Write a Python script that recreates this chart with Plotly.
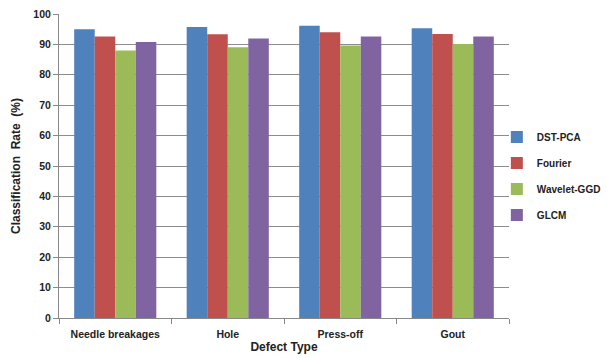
import plotly.graph_objects as go

categories = ["Needle breakages", "Hole", "Press-off", "Gout"]
dst_pca = [95.0, 95.7, 96.1, 95.3]
fourier = [92.6, 93.3, 94.0, 93.4]
wavelet_ggd = [88.0, 89.1, 89.6, 90.1]
glcm = [90.8, 91.9, 92.6, 92.6]

series = [
    ("DST-PCA", dst_pca, "#4F81BD"),
    ("Fourier", fourier, "#C0504D"),
    ("Wavelet-GGD", wavelet_ggd, "#9BBB59"),
    ("GLCM", glcm, "#8064A2"),
]

fig = go.Figure()
for name, vals, col in series:
    fig.add_trace(go.Bar(x=categories, y=vals, name=name, legendgroup=name,
                         marker=dict(color=col, line=dict(width=0))))

font_family = "Liberation Sans, Arial, sans-serif"
fig.update_layout(
    width=607, height=358,
    margin=dict(l=59, r=98, t=14, b=40, autoexpand=False),
    paper_bgcolor="white", plot_bgcolor="white",
    barmode="group", bargap=0.27, bargroupgap=0,
    font=dict(family=font_family, size=11, color="#222222"),
    legend=dict(x=0.973, y=0.467, xanchor="left", yanchor="middle",
                font=dict(size=10, color="#222222", family=font_family, weight="bold"),
                itemwidth=30, tracegroupgap=7, bgcolor="rgba(0,0,0,0)"),
    showlegend=True,
)
fig.update_xaxes(
    automargin=False,
    showline=True, linecolor="#888888", linewidth=1,
    ticks="outside", tickson="boundaries", ticklen=5, tickcolor="#888888",
    ticklabelstandoff=6,
    tickfont=dict(size=10.5, family=font_family, color="#222222", weight="bold"),
    title=dict(text="<b>Defect Type</b>", font=dict(size=12, color="#222222"), standoff=0),
)
fig.update_yaxes(
    automargin=False,
    range=[0, 100], dtick=10,
    showline=True, linecolor="#888888", linewidth=1,
    showgrid=True, gridcolor="#8c8c8c", gridwidth=1,
    ticks="outside", ticklen=5, tickcolor="#888888",
    tickfont=dict(size=10.5, family=font_family, color="#222222", weight="bold"),
    title=dict(text="<b>Classification  Rate  (%)</b>", font=dict(size=12, color="#222222"), standoff=10),
    zeroline=False,
)
fig.write_html("out.html", config={"displayModeBar": False},
               post_script="document.body.style.margin='0';document.body.style.padding='0';")
